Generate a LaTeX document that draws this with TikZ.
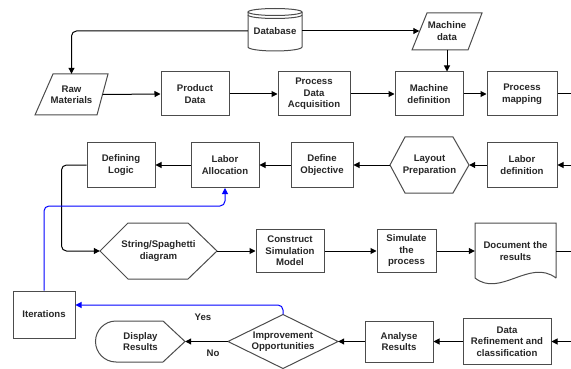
\documentclass[tikz,border=0pt]{standalone}
\usepackage{fontspec}
\setmainfont{Liberation Sans}
\usetikzlibrary{arrows.meta}
\begin{document}
\begin{tikzpicture}[x=1pt,y=1pt,
  lbl/.style={font=\bfseries\fontsize{9.6}{11.5}\selectfont, align=center, inner sep=0pt, text=black!85},
  box/.style={lbl, draw=black!70, line width=1pt},
  shp/.style={draw=black!70, line width=1pt},
  plain/.style={line width=1pt, black},
  conn/.style={plain, -{Triangle[length=6pt,width=6pt]}},
  blueconn/.style={line width=1pt, blue, rounded corners=5pt, -{Triangle[length=6pt,width=6pt]}}]
\useasboundingbox (0,0) rectangle (571,-369);

% ---- Row 0 / 1 ----
\node[lbl, minimum width=54pt, minimum height=44pt] (db) at (275,-31) {Database};
\draw[shp] (248,-12) -- (248,-47) arc[start angle=180,end angle=360,x radius=27,y radius=4] -- (302,-12);
\draw[shp] (275,-12) ellipse[x radius=27,y radius=3.5];
\draw[shp] (248,-15) arc[start angle=180,end angle=360,x radius=27,y radius=3.5];

\node[lbl, minimum width=73pt, minimum height=41pt] (raw) at (71.5,-94.5) {Raw\\Materials};
\draw[shp] (53,-74) -- (108,-74) -- (97,-115) -- (35,-115) -- cycle;

\node[lbl, minimum width=70pt, minimum height=37pt] (md) at (447,-31) {Machine\\data};
\draw[shp] (427,-13) -- (482,-13) -- (468,-50) -- (412,-50) -- cycle;

\node[box, minimum width=68pt, minimum height=44pt] (prod) at (195,-94) {Product\\Data};
\node[box, minimum width=72pt, minimum height=44pt] (pda) at (314,-94) {Process\\Data\\Acquisition};
\node[box, minimum width=68pt, minimum height=44pt] (mdef) at (429,-94) {Machine\\definition};
\node[box, minimum width=70pt, minimum height=44pt] (pmap) at (522,-94) {Process\\mapping};
\coordinate (e1) at (571,-94);

% ---- Row 2 ----
\node[box, minimum width=68pt, minimum height=45pt] (dlog) at (121,-165) {Defining\\Logic};
\node[box, minimum width=68pt, minimum height=45pt] (lalloc) at (225,-165) {Labor\\Allocation};
\node[box, minimum width=62pt, minimum height=45pt] (dobj) at (322,-165) {Define\\Objective};
\node[lbl, minimum width=79pt, minimum height=56pt] (lay) at (429.5,-165) {Layout\\Preparation};
\draw[shp] (390,-165) -- (405,-137) -- (453,-137) -- (469,-165) -- (453,-193) -- (405,-193) -- cycle;
\node[box, minimum width=70pt, minimum height=45pt] (ldef) at (522,-165) {Labor\\definition};
\coordinate (e2) at (571,-165);

% ---- Row 3 ----
\node[lbl, minimum width=117pt, minimum height=56pt] (str) at (158.5,-251) {String/Spaghetti\\diagram};
\draw[shp] (100,-251) -- (128,-223) -- (188,-223) -- (217,-251) -- (188,-279) -- (128,-279) -- cycle;
\node[box, minimum width=68pt, minimum height=43pt] (csm) at (290,-251) {Construct\\Simulation\\Model};
\node[box, minimum width=59pt, minimum height=43pt] (sim) at (406.5,-251) {Simulate\\the\\process};
\node[lbl, minimum width=81pt, minimum height=56pt] (doc) at (515.5,-251) {Document the\\results};
\draw[shp] (556,-278) -- (556,-223) -- (475,-223) -- (475,-278)
  .. controls (500,-298) and (530,-258) .. (556,-278);
\coordinate (e3) at (571,-251);

% ---- Row 4 ----
\node[box, minimum width=62pt, minimum height=47pt] (iter) at (44,-314.5) {Iterations};
\node[lbl, minimum width=89pt, minimum height=41pt] (disp) at (140.5,-341.5) {Display\\Results};
\draw[shp] (116,-321) -- (163,-321) -- (185,-341.5) -- (163,-362) -- (116,-362)
  arc[start angle=270,end angle=90,radius=20.5] -- cycle;
\node[lbl, minimum width=110pt, minimum height=54pt] (imp) at (283,-341.5) {Improvement\\Opportunities};
\draw[shp] (228,-341.5) -- (283,-314.5) -- (338,-341.5) -- (283,-368.5) -- cycle;
\node[box, minimum width=68pt, minimum height=41pt] (ana) at (399,-341.5) {Analyse\\Results};
\node[box, minimum width=88pt, minimum height=46pt] (dref) at (507,-341.5) {Data\\Refinement and\\classification};
\coordinate (e4) at (571,-341.5);

\node[lbl] (yes) at (203,-317) {Yes};
\node[lbl] (no) at (213,-353) {No};

% ---- connectors ----
\draw[conn, rounded corners=5pt] (db.west) -| (raw.north);
\draw[conn] (db.east) -- ([xshift=7.5pt]md.west);
\draw[conn] (md.south) -- (md.south |- mdef.north);
\draw[conn] ([xshift=-5.5pt]raw.east) -- (prod.west);
\draw[conn] (prod.east) -- (pda.west);
\draw[conn] (pda.east) -- (mdef.west);
\draw[conn] (mdef.east) -- (pmap.west);
\draw[plain] (pmap.east) -- (e1);

\draw[conn] (e2) -- (ldef.east);
\draw[conn] (ldef.west) -- (lay.east);
\draw[conn] (lay.west) -- (dobj.east);
\draw[conn] (dobj.west) -- (lalloc.east);
\draw[conn] (lalloc.west) -- (dlog.east);
\draw[conn, rounded corners=5pt] (dlog.west) -- ++(-25,0) |- (str.west);

\draw[conn] (str.east) -- (csm.west);
\draw[conn] (csm.east) -- (sim.west);
\draw[conn] (sim.east) -- (doc.west);
\draw[plain] (doc.east) -- (e3);

\draw[conn] (e4) -- (dref.east);
\draw[conn] (dref.west) -- (ana.east);
\draw[conn] (ana.west) -- (imp.east);
\draw[conn] (imp.west) -- (disp.east);

\coordinate (bl) at (225,-206);
\coordinate (br) at (283,-305);
\draw[blueconn] (iter.north) |- (bl) -- (lalloc.south);
\draw[blueconn] (imp.north) -- (br) -- (br -| iter.east);
\end{tikzpicture}
\end{document}
